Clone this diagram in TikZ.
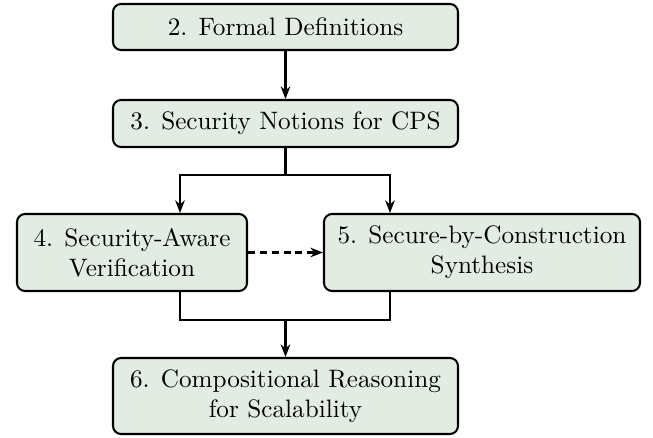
\documentclass[tikz,border=0pt]{standalone}
\usetikzlibrary{arrows.meta}
\definecolor{boxfill}{RGB}{226,236,226}
\begin{document}
\begin{tikzpicture}[x=0.3968pt,y=-0.3968pt,
  box/.style={draw=black, fill=boxfill, line width=0.8pt, rounded corners=3.2pt,
    align=center, inner sep=0pt, font=\normalsize},
  conn/.style={line width=0.8pt},
  arr/.style={conn,-{Stealth[length=5pt,width=3.8pt,inset=1.6pt]}},
  dashline/.style={dash pattern=on 2.8pt off 1.9pt}]
\useasboundingbox (0,0) rectangle (653,438);
\node[box, minimum width=345*0.3968pt, minimum height=46*0.3968pt] (b2) at (285.5,27) {2. Formal Definitions};
\node[box, minimum width=345*0.3968pt, minimum height=47*0.3968pt] (b3) at (285.5,123.5) {3. Security Notions for CPS};
\node[box, minimum width=230*0.3968pt, minimum height=77*0.3968pt] (b4) at (132,252.5) {4. Security-Aware\\Verification};
\node[box, minimum width=316*0.3968pt, minimum height=77*0.3968pt] (b5) at (482,252.5) {5. Secure-by-Construction\\Synthesis};
\node[box, minimum width=345*0.3968pt, minimum height=76*0.3968pt] (b6) at (285.5,396) {6. Compositional Reasoning\\for Scalability};
\coordinate (s1) at (285.5,175);
\coordinate (s1l) at (180,175);
\coordinate (s1r) at (390,175);
\coordinate (j1) at (285.5,320);
\coordinate (j1l) at (180,320);
\coordinate (j1r) at (390,320);
\draw[arr] (b2) -- (b3);
\draw[conn] (b3.south) -- (s1);
\draw[arr] (s1) -- (s1l) -- (b4.north -| s1l);
\draw[arr] (s1) -- (s1r) -- (b5.north -| s1r);
\draw[arr, dashline] (b4.east) -- (b5.west);
\draw[conn] (b4.south -| j1l) -- (j1l) -- (j1r) -- (b5.south -| j1r);
\draw[arr] (j1) -- (b6.north);
\end{tikzpicture}
\end{document}
